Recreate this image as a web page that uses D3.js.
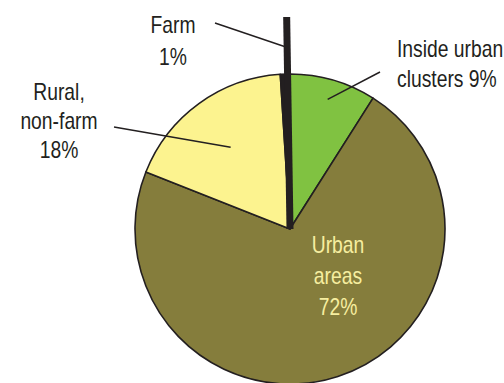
<!DOCTYPE html>
<html>
<head>
<meta charset="utf-8">
<script src="https://cdn.jsdelivr.net/npm/d3@7"></script>
<style>
  body { margin: 0; background: #fff; }
  svg text { font-family: "Liberation Sans", Arial, sans-serif; }
</style>
</head>
<body>
<svg id="pie"></svg>
<script>
// Data (clockwise from 12 o'clock)
const categories = ["Inside urban clusters", "Urban areas", "Rural, non-farm", "Farm"];
const shares = [9, 72, 18, 1];
const colors = ["#80c241", "#857d3c", "#fcf38f", "#231f20"];

const W = 504, H = 383;
const svg = d3.select("#pie")
  .attr("width", W)
  .attr("height", H);

const cx = 290, cy = 229, r = 155;
const ink = "#231f20";

const pie = d3.pie().sort(null).value(d => d.value);
const arcs = pie(categories.map((c, i) => ({ name: c, value: shares[i], color: colors[i] })));

const arc = d3.arc().innerRadius(0).outerRadius(r);

const g = svg.append("g").attr("transform", `translate(${cx},${cy})`);

g.selectAll(".slice")
  .data(arcs)
  .join("path")
  .attr("class", "slice")
  .attr("d", arc)
  .attr("fill", d => d.data.color)
  .attr("stroke", ink)
  .attr("stroke-width", 1.6)
  .attr("stroke-linejoin", "round");

// farm slice is drawn as a long black bar sticking out of the pie
const farm = arcs[3];
const farmAng = farm.endAngle - (farm.endAngle - farm.startAngle) / 4;
const farmLen = 212;
g.append("line")
  .attr("x1", 0).attr("y1", 0)
  .attr("x2", farmLen * Math.sin(farmAng))
  .attr("y2", -farmLen * Math.cos(farmAng))
  .attr("stroke", ink)
  .attr("stroke-width", 7);

// point inside a slice at a given radius, on its mid angle
const inside = (d, rad) => {
  const a = (d.startAngle + d.endAngle) / 2;
  return [rad * Math.sin(a), -rad * Math.cos(a)];
};

// leader lines (outer end near the label, inner end inside the slice)
const leaders = [
  { from: [380 - cx, 72 - cy], to: inside(arcs[0], 135) },
  { from: [114 - cx, 127 - cy], to: inside(arcs[2], 101) },
  { from: [215 - cx, 23 - cy], to: [farmLen * 0.86 * Math.sin(farmAng) - 2, -farmLen * 0.86 * Math.cos(farmAng)] }
];
g.selectAll(".leader")
  .data(leaders)
  .join("line")
  .attr("class", "leader")
  .attr("x1", d => d.from[0]).attr("y1", d => d.from[1])
  .attr("x2", d => d.to[0]).attr("y2", d => d.to[1])
  .attr("stroke", ink)
  .attr("stroke-width", 1.5);

// labels (the original uses a condensed face, so squeeze horizontally)
const squeeze = 0.84;
const labels = [
  { lines: ["Farm", "1%"], x: 173, y: 33, dy: 32, anchor: "middle", fill: ink },
  { lines: ["Rural,", "non-farm", "18%"], x: 59, y: 100, dy: 29, anchor: "middle", fill: ink },
  { lines: ["Inside urban", "clusters 9%"], x: 397, y: 57, dy: 30, anchor: "start", fill: ink },
  { lines: ["Urban", "areas", "72%"], x: 338, y: 253, dy: 31, anchor: "middle", fill: "#f6eea0" }
];
labels.forEach(l => {
  const t = svg.append("text")
    .attr("transform", `translate(${l.x},${l.y}) scale(${squeeze},1)`)
    .attr("text-anchor", l.anchor)
    .attr("font-size", "23px")
    .attr("fill", l.fill);
  l.lines.forEach((s, i) => {
    t.append("tspan")
      .attr("x", 0)
      .attr("y", i * l.dy)
      .text(s);
  });
});
</script>
</body>
</html>
